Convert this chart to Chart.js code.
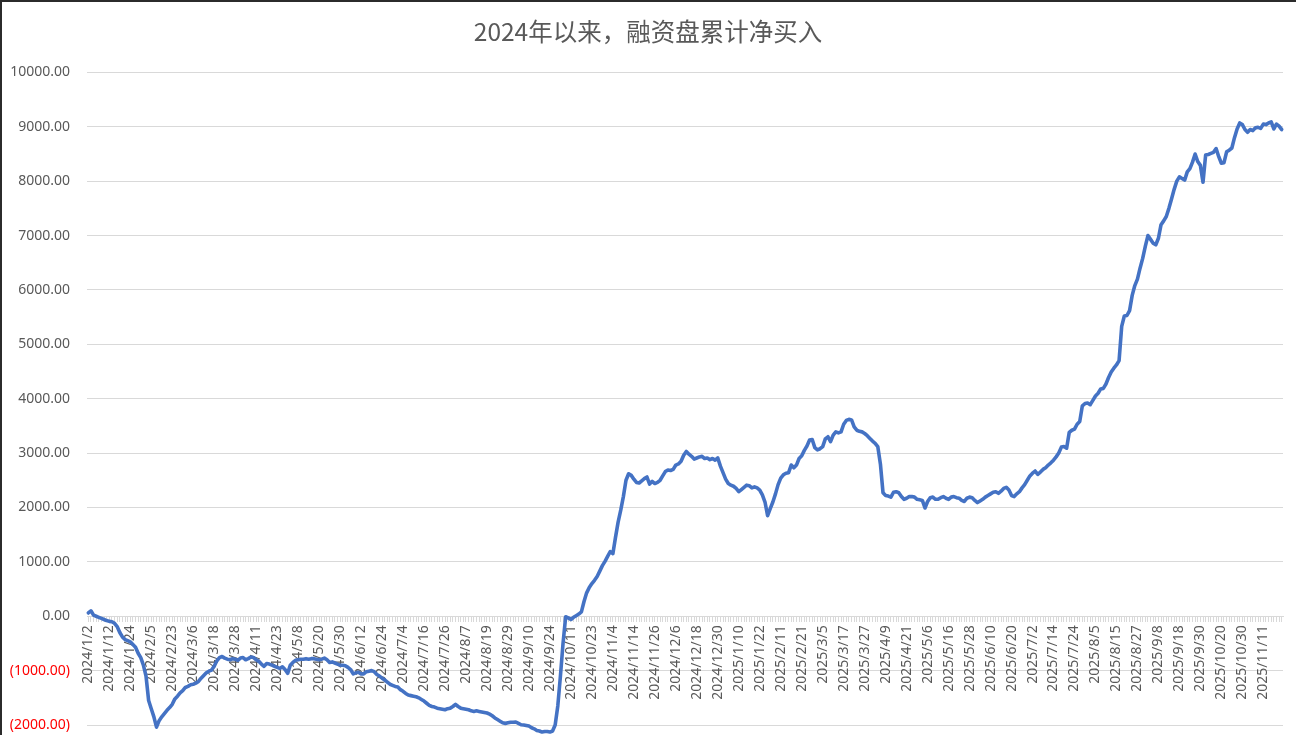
<!DOCTYPE html>
<html lang="zh">
<head>
  <meta charset="UTF-8">
  <title>2024年以来，融资盘累计净买入</title>
  <script src="https://cdn.jsdelivr.net/npm/chart.js"></script>
</head>
<style>
  body { margin: 0; background: #fff; }
  .chart-container { position: relative; width: 1296px; height: 735px; }
  .frame {
    position: absolute; left: 0; top: 0; width: 1296px; height: 735px;
    box-sizing: border-box; border-left: 2px solid #2b2b2b; border-top: 2px solid #2b2b2b;
    pointer-events: none;
  }
</style>
<body>
  <div class="chart-container">
    <canvas id="chartCanvas" width="1296" height="735"></canvas>
    <div class="frame"></div>
  </div>

  <script>
    // x-axis labels shown (one every 8 trading days)
    const shownDates = [
      '2024/1/2', '2024/1/12', '2024/1/24', '2024/2/5', '2024/2/23', '2024/3/6', '2024/3/18', '2024/3/28',
      '2024/4/11', '2024/4/23', '2024/5/8', '2024/5/20', '2024/5/30', '2024/6/12', '2024/6/24', '2024/7/4',
      '2024/7/16', '2024/7/26', '2024/8/7', '2024/8/19', '2024/8/29', '2024/9/10', '2024/9/24', '2024/10/11',
      '2024/10/23', '2024/11/4', '2024/11/14', '2024/11/26', '2024/12/6', '2024/12/18', '2024/12/30', '2025/1/10',
      '2025/1/22', '2025/2/11', '2025/2/21', '2025/3/5', '2025/3/17', '2025/3/27', '2025/4/9', '2025/4/21',
      '2025/5/6', '2025/5/16', '2025/5/28', '2025/6/10', '2025/6/20', '2025/7/2', '2025/7/14', '2025/7/24',
      '2025/8/5', '2025/8/15', '2025/8/27', '2025/9/8', '2025/9/18', '2025/9/30', '2025/10/20', '2025/10/30',
      '2025/11/11'
    ];
    const labelStep = 8;

    // 融资盘累计净买入 (亿元), one value per trading day
    const netBuy = [
      60, 100, 20, 0, -20, -40, -60, -80,
      -95, -100, -130, -190, -300, -380, -430, -450,
      -470, -520, -570, -680, -760, -900, -1100, -1550,
      -1700, -1850, -2040, -1920, -1850, -1790, -1730, -1680,
      -1620, -1520, -1470, -1410, -1370, -1310, -1290, -1260,
      -1250, -1230, -1200, -1140, -1090, -1040, -1010, -990,
      -920, -820, -760, -740, -770, -790, -800, -780,
      -790, -810, -770, -760, -800, -780, -750, -760,
      -800, -830, -880, -920, -870, -880, -900, -920,
      -940, -960, -930, -980, -1050, -900, -850, -810,
      -800, -790, -790, -780, -790, -780, -780, -790,
      -800, -790, -770, -800, -850, -840, -860, -880,
      -900, -900, -910, -940, -980, -1060, -1040, -1030,
      -1060, -1060, -1020, -1010, -1000, -1020, -1070, -1100,
      -1140, -1170, -1210, -1250, -1270, -1290, -1300, -1350,
      -1380, -1420, -1450, -1460, -1470, -1480, -1500, -1530,
      -1560, -1600, -1640, -1660, -1670, -1690, -1700, -1710,
      -1720, -1700, -1690, -1660, -1620, -1660, -1690, -1700,
      -1710, -1720, -1740, -1750, -1740, -1750, -1760, -1770,
      -1780, -1800, -1830, -1870, -1900, -1930, -1960, -1970,
      -1960, -1950, -1950, -1945, -1970, -1995, -2000, -2010,
      -2020, -2050, -2070, -2100, -2110, -2130, -2120, -2120,
      -2130, -2110, -2000, -1650, -1100, -500, -10, -30,
      -60, -20, 10, 40, 80, 270, 430, 530,
      600, 660, 730, 830, 930, 1010, 1100, 1190,
      1150, 1450, 1730, 1950, 2200, 2500, 2620, 2590,
      2520, 2460, 2450, 2490, 2530, 2560, 2430, 2480,
      2440, 2460, 2500, 2580, 2660, 2690, 2680, 2700,
      2780, 2800, 2850, 2960, 3030, 2980, 2940, 2890,
      2910, 2930, 2940, 2900, 2910, 2880, 2900, 2870,
      2910, 2760, 2640, 2520, 2440, 2410, 2390, 2350,
      2290, 2330, 2370, 2410, 2400, 2360, 2380, 2360,
      2320, 2230, 2100, 1850, 1980, 2100, 2250, 2420,
      2540, 2600, 2630, 2640, 2780, 2730, 2780, 2900,
      2950, 3050, 3130, 3240, 3250, 3100, 3060, 3080,
      3120, 3260, 3300, 3210, 3330, 3390, 3370, 3390,
      3530, 3600, 3620, 3610, 3480, 3420, 3400, 3390,
      3360, 3320, 3270, 3220, 3180, 3120, 2800, 2270,
      2220, 2210, 2190, 2280, 2290, 2270, 2200, 2150,
      2170, 2200, 2200, 2190, 2150, 2140, 2130, 1990,
      2110, 2180, 2190, 2150, 2150, 2180, 2200, 2170,
      2150, 2190, 2200, 2180, 2170, 2130, 2110, 2170,
      2190, 2180, 2130, 2090, 2120, 2150, 2190, 2220,
      2250, 2280, 2290, 2260, 2300, 2350, 2370, 2320,
      2220, 2200, 2250, 2290, 2360, 2420, 2500, 2580,
      2630, 2670, 2610, 2650, 2700, 2730, 2780, 2820,
      2870, 2930, 3000, 3110, 3120, 3090, 3380, 3420,
      3440, 3530, 3580, 3870, 3910, 3920, 3890, 3970,
      4050, 4100, 4180, 4190, 4270, 4390, 4490, 4560,
      4620, 4700, 5330, 5520, 5530, 5620, 5900, 6080,
      6200, 6400, 6580, 6800, 7000, 6930, 6860, 6830,
      6950, 7200, 7270, 7350, 7500, 7670, 7850, 8000,
      8080, 8050, 8020, 8170, 8230, 8350, 8500, 8360,
      8290, 7980, 8480, 8490, 8510, 8530, 8600, 8450,
      8330, 8340, 8540, 8570, 8610, 8800, 8960, 9070,
      9040, 8950, 8900, 8950, 8930, 8980, 8990, 8970,
      9050, 9040, 9070, 9090, 8960, 9050, 9010, 8950
    ];

    const yMin = -2000;
    const yMax = 10000;
    const yStep = 1000;

    // category labels: only every 8th trading day carries text
    const labels = netBuy.map((v, i) => i % labelStep === 0 ? shownDates[i / labelStep] : '');

    const gray = '#595959';
    const gridGray = '#d9d9d9';

    const ctx = document.getElementById('chartCanvas').getContext('2d');
    const chart = new Chart(ctx, {
      type: 'line',
      data: {
        labels: labels,
        datasets: [{
          label: '融资盘累计净买入',
          data: netBuy,
          borderColor: '#4472C4',
          borderWidth: 3.6,
          pointRadius: 0,
          tension: 0,
          borderJoinStyle: 'round',
          borderCapStyle: 'round',
          fill: false,
          clip: { left: 5, right: 5, top: 5, bottom: 20 }
        }]
      },
      options: {
        responsive: false,
        animation: false,
        layout: {
          padding: { left: 0, right: 0, top: 0, bottom: 10 }
        },
        plugins: {
          legend: { display: false },
          tooltip: { enabled: false },
          title: {
            display: true,
            text: '2024年以来，融资盘累计净买入',
            color: gray,
            font: { family: '"Noto Sans CJK SC", "Noto Sans"', size: 24.5, weight: 'normal' },
            padding: { top: 17, bottom: 26 }
          }
        },
        scales: {
          x: {
            type: 'category',
            position: { y: 0 },
            offset: true,
            border: { display: true, color: gridGray, width: 1 },
            grid: {
              drawOnChartArea: false,
              drawTicks: true,
              tickLength: 5,
              color: gridGray
            },
            afterFit: (scale) => {
              // axis sits on the zero line, so it takes no room of its own
              scale.height = 0;
              scale.paddingLeft = 0;
              scale.paddingRight = 0;
              scale.paddingTop = 0;
              scale.paddingBottom = 0;
            },
            ticks: {
              autoSkip: false,
              minRotation: 90,
              maxRotation: 90,
              padding: 4,
              color: gray,
              font: { family: '"Noto Sans"', size: 14 }
            }
          },
          y: {
            min: yMin,
            max: yMax,
            border: { display: false },
            grid: { color: gridGray, drawTicks: false },
            afterFit: (scale) => {
              scale.width = 87;
              scale.paddingTop = 0;
              scale.paddingBottom = 0;
            },
            ticks: {
              stepSize: yStep,
              padding: 17,
              font: { family: '"Noto Sans"', size: 14 },
              color: (c) => c.tick && c.tick.value < 0 ? '#ff0000' : gray,
              callback: (value) => value < 0 ? '(' + Math.abs(value).toFixed(2) + ')' : value.toFixed(2)
            }
          },
          yRight: {
            position: 'right',
            display: true,
            grid: { display: false },
            border: { display: false },
            ticks: { display: false },
            afterFit: (scale) => { scale.width = 13; }
          }
        }
      }
    });
  </script>
</body>
</html>
